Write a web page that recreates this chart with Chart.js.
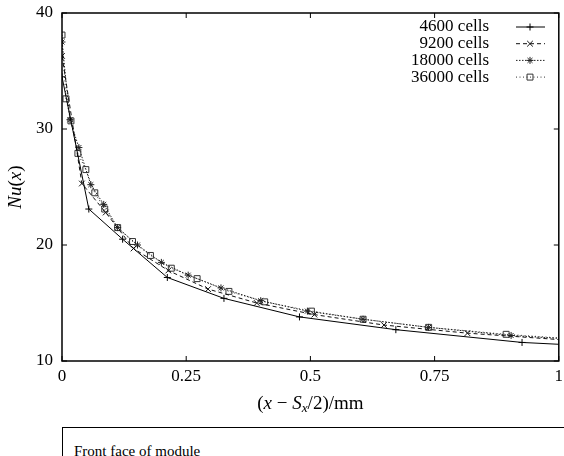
<!DOCTYPE html>
<html>
<head>
<meta charset="utf-8">
<script src="https://cdn.jsdelivr.net/npm/chart.js@4.4.0/dist/chart.umd.min.js"></script>
<style>
html, body { margin: 0; padding: 0; background: #fff; }
#wrap { position: relative; width: 564px; height: 456px; overflow: hidden; }
#c { display: block; }
#caption { position: absolute; left: 62px; top: 427px; width: 540px; height: 60px; border: 1px solid #000;
  font-family: "Liberation Serif", serif; font-size: 15px; line-height: 17px; padding: 15px 0 0 11px; box-sizing: border-box; }
</style>
</head>
<body>
<div id="wrap">
<canvas id="c" width="564" height="424"></canvas>
<div id="caption">Front face of module</div>
</div>
<script>
// values, x in mm from S_x/2
var x4600 = [0, 0.054, 0.122, 0.212, 0.326, 0.478, 0.672, 0.926, 1.25];
var nu4600 = [34.5, 23.1, 20.5, 17.2, 15.4, 13.8, 12.7, 11.6, 10.9];

var x9200 = [0, 0.04, 0.088, 0.144, 0.214, 0.294, 0.392, 0.508, 0.648, 0.816, 1.016];
var nu9200 = [36.3, 25.3, 22.8, 19.7, 17.8, 16.2, 15.0, 14.0, 13.1, 12.4, 11.8];

var x18000 = [0, 0.016, 0.034, 0.058, 0.084, 0.112, 0.152, 0.2, 0.254, 0.32, 0.40, 0.494, 0.606, 0.738, 0.904, 1.1];
var nu18000 = [37.5, 30.8, 28.4, 25.2, 23.5, 21.5, 20.0, 18.5, 17.4, 16.3, 15.2, 14.3, 13.6, 12.9, 12.2, 11.7];

var x36000 = [0, 0.008, 0.018, 0.032, 0.048, 0.066, 0.086, 0.112, 0.142, 0.178, 0.22, 0.272, 0.336, 0.408, 0.502, 0.606, 0.738, 0.894, 1.08];
var nu36000 = [38.1, 32.6, 30.7, 27.9, 26.5, 24.5, 23.1, 21.5, 20.3, 19.1, 18.0, 17.1, 16.0, 15.1, 14.3, 13.6, 12.9, 12.3, 11.75];

var seriesLabels = ["4600 cells", "9200 cells", "18000 cells", "36000 cells"];
var xTicks = [0, 0.25, 0.5, 0.75, 1];
var xTickLabels = ["0", "0.25", "0.5", "0.75", "1"];
var yTicks = [10, 20, 30, 40];

var serif = "Liberation Serif";

function pts(xs, ys) {
    return xs.map(function (v, i) { return {x: v, y: ys[i]}; });
}

function series(label, xs, ys, color, dash, style, radius) {
    return {
        label: label,
        data: pts(xs, ys),
        borderColor: color,
        borderWidth: 1,
        borderDash: dash,
        fill: false,
        tension: 0,
        pointStyle: style,
        pointRadius: radius,
        pointBorderColor: color,
        pointBackgroundColor: 'rgba(0,0,0,0)',
        pointBorderWidth: 1
    };
}

var datasets = [
    series(seriesLabels[0], x4600, nu4600, '#000', [], 'cross', 3.5),
    series(seriesLabels[1], x9200, nu9200, '#111', [4, 3], 'crossRot', 4),
    series(seriesLabels[2], x18000, nu18000, '#222', [1.5, 1.5], 'star', 3.5),
    series(seriesLabels[3], x36000, nu36000, '#333', [1, 2.5], 'rect', 4.2)
];

// draw text made of upright / italic / subscript pieces
function richText(ctx, segs, cx, cy, size) {
    function font(s) {
        var sz = s[1].indexOf('s') >= 0 ? size * 0.7 : size;
        return (s[1].indexOf('i') >= 0 ? 'italic ' : '') + sz + 'px "' + serif + '"';
    }
    var total = 0;
    segs.forEach(function (s) { ctx.font = font(s); total += ctx.measureText(s[0]).width; });
    var x = cx - total / 2;
    ctx.textAlign = 'left';
    ctx.textBaseline = 'middle';
    segs.forEach(function (s) {
        ctx.font = font(s);
        ctx.fillText(s[0], x, cy + (s[1].indexOf('s') >= 0 ? size * 0.25 : 0));
        x += ctx.measureText(s[0]).width;
    });
}

var decor = {
    id: 'decor',
    afterDraw: function (chart) {
        var ctx = chart.ctx, a = chart.chartArea;
        var xs = chart.scales.x, ys = chart.scales.y;
        ctx.save();
        ctx.strokeStyle = '#000';
        ctx.fillStyle = '#000';
        ctx.lineWidth = 1.5;
        ctx.strokeRect(a.left, a.top, a.right - a.left, a.bottom - a.top);

        // inward ticks, mirrored
        ctx.lineWidth = 1;
        ctx.beginPath();
        xTicks.forEach(function (v) {
            var p = xs.getPixelForValue(v);
            ctx.moveTo(p, a.bottom); ctx.lineTo(p, a.bottom - 5);
            ctx.moveTo(p, a.top); ctx.lineTo(p, a.top + 5);
        });
        yTicks.forEach(function (v) {
            var p = ys.getPixelForValue(v);
            ctx.moveTo(a.left, p); ctx.lineTo(a.left + 5, p);
            ctx.moveTo(a.right, p); ctx.lineTo(a.right - 5, p);
        });
        ctx.stroke();

        // axis titles
        richText(ctx, [['(', ''], ['x', 'i'], [' \u2212 ', ''], ['S', 'i'], ['x', 'is'], ['/2)/mm', '']],
            (a.left + a.right) / 2, 404, 19);
        ctx.save();
        ctx.translate(16, (a.top + a.bottom) / 2);
        ctx.rotate(-Math.PI / 2);
        richText(ctx, [['Nu', 'i'], ['(', ''], ['x', 'i'], [')', '']], 0, 0, 19);
        ctx.restore();

        // key, top right
        chart.data.datasets.forEach(function (ds, i) {
            var y = 27 + i * 16.7;
            ctx.font = '17px "' + serif + '"';
            ctx.textAlign = 'right';
            ctx.textBaseline = 'middle';
            ctx.fillStyle = '#000';
            ctx.fillText(ds.label, 489, y);
            ctx.strokeStyle = ds.borderColor;
            ctx.lineWidth = 1;
            ctx.setLineDash(ds.borderDash);
            ctx.beginPath();
            ctx.moveTo(516, y);
            ctx.lineTo(545, y);
            ctx.stroke();
            ctx.setLineDash([]);
            ctx.fillStyle = 'rgba(0,0,0,0)';
            Chart.helpers.drawPoint(ctx, {pointStyle: ds.pointStyle, radius: ds.pointRadius, borderWidth: 1, rotation: 0}, 530, y);
        });
        ctx.restore();
    }
};

var ctx = document.getElementById("c").getContext("2d");

var myChart = new Chart(ctx, {
    type: 'line',
    data: {datasets: datasets},
    options: {
        responsive: false,
        animation: false,
        devicePixelRatio: 1,
        layout: {padding: {top: 13, right: 1, left: 0, bottom: 0}},
        plugins: {legend: {display: false}, tooltip: {enabled: false}},
        scales: {
            x: {
                type: 'linear',
                min: 0,
                max: 1,
                grid: {display: false, drawTicks: false},
                border: {display: false},
                afterBuildTicks: function (s) { s.ticks = xTicks.map(function (v) { return {value: v}; }); },
                afterFit: function (s) { s.height = 63; s.paddingLeft = 0; s.paddingRight = 0; },
                ticks: {
                    padding: 5,
                    color: '#000',
                    maxRotation: 0,
                    autoSkip: false,
                    font: {family: serif, size: 17},
                    callback: function (v, i) { return xTickLabels[i]; }
                }
            },
            y: {
                type: 'linear',
                min: 10,
                max: 40,
                grid: {display: false, drawTicks: false},
                border: {display: false},
                afterBuildTicks: function (s) { s.ticks = yTicks.map(function (v) { return {value: v}; }); },
                afterFit: function (s) { s.width = 62; s.paddingTop = 0; s.paddingBottom = 0; },
                ticks: {
                    padding: 9,
                    color: '#000',
                    font: {family: serif, size: 17},
                    callback: function (v) { return String(v); }
                }
            }
        }
    },
    plugins: [decor]
});
</script>
</body>
</html>
